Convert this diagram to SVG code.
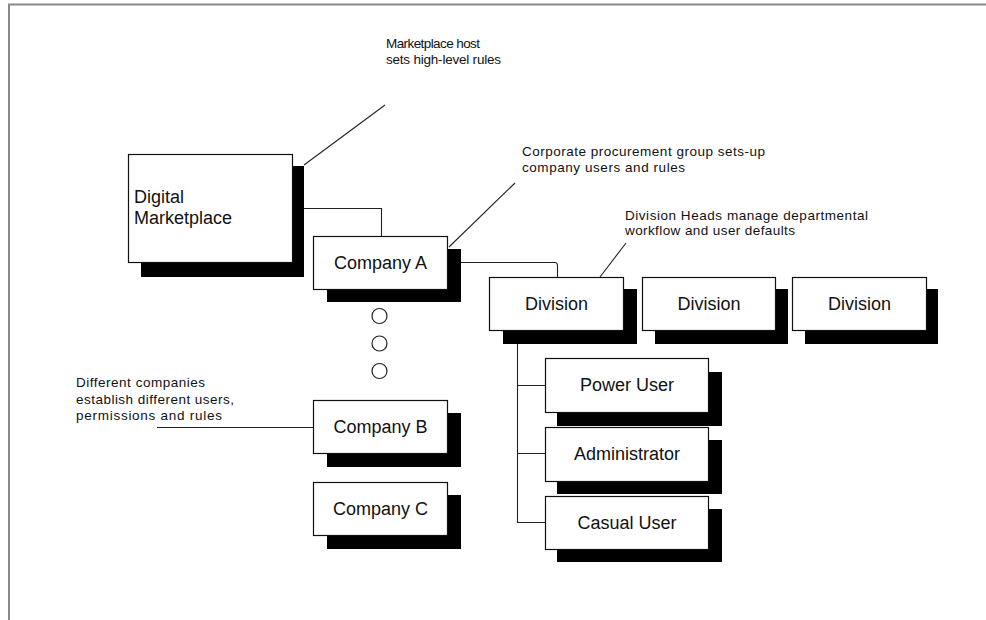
<svg xmlns="http://www.w3.org/2000/svg" width="986" height="620" viewBox="0 0 986 620">
<style>
.box{fill:#fff;stroke:#111;stroke-width:1.2}
.sh{fill:#000}
.lbl{font-family:"Liberation Sans",Arial,sans-serif;font-size:18px;fill:#111;text-anchor:middle}
.note{font-family:"Liberation Sans",Arial,sans-serif;font-size:13.5px;fill:#111}
.ln{fill:none;stroke:#222;stroke-width:1.1}
.dot{fill:#fff;stroke:#222;stroke-width:1.2}
</style>
<rect width="986" height="620" fill="#fff"/>
<g id="frame">
<path d="M9 620 V4.5 H986" fill="none" stroke="#8a8a8a" stroke-width="2"/>
</g>
<g id="connectors">
<path class="ln" d="M304 165 L385 105"/>
<path class="ln" d="M300 208.5 H381.5 V236"/>
<path class="ln" d="M449 247 L515 183"/>
<path class="ln" d="M455 262.5 H555 Q557.5 262.5 557.5 266 V277"/>
<path class="ln" d="M600 277 L626 243"/>
<path class="ln" d="M157 427.5 H313"/>
<path class="ln" d="M517.5 331 V522.5 H545 M517.5 385.5 H545 M517.5 453.5 H545"/>
</g>
<g id="notes">
<text class="note" x="386" y="48" textLength="94" lengthAdjust="spacing">Marketplace host</text>
<text class="note" x="386" y="64" textLength="115" lengthAdjust="spacing">sets high-level rules</text>
<text class="note" x="522" y="156" textLength="243" lengthAdjust="spacing">Corporate procurement group sets-up</text>
<text class="note" x="522" y="172" textLength="163" lengthAdjust="spacing">company users and rules</text>
<text class="note" x="625" y="220" textLength="243" lengthAdjust="spacing">Division Heads manage departmental</text>
<text class="note" x="625" y="235" textLength="170" lengthAdjust="spacing">workflow and user defaults</text>
<text class="note" x="76" y="387" textLength="129" lengthAdjust="spacing">Different companies</text>
<text class="note" x="76" y="404" textLength="158" lengthAdjust="spacing">establish different users,</text>
<text class="note" x="76" y="420" textLength="146" lengthAdjust="spacing">permissions and rules</text>
</g>
<g id="digital-marketplace">
<rect class="sh" x="141" y="166" width="163" height="111"/>
<rect class="box" x="128.5" y="154.5" width="164" height="108"/>
<text class="lbl" x="134" y="203" style="text-anchor:start">Digital</text>
<text class="lbl" x="134" y="224" style="text-anchor:start">Marketplace</text>
</g>
<g id="company-a">
<rect class="sh" x="327" y="249" width="134" height="53"/>
<rect class="box" x="313.5" y="236.5" width="134" height="53"/>
<text class="lbl" x="380.5" y="269">Company A</text>
</g>
<g id="ellipsis">
<circle class="dot" cx="379.5" cy="316" r="7.5"/>
<circle class="dot" cx="379.5" cy="343.5" r="7.5"/>
<circle class="dot" cx="379.5" cy="371" r="7.5"/>
</g>
<g id="company-b">
<rect class="sh" x="327" y="413" width="134" height="54"/>
<rect class="box" x="313.5" y="400.5" width="134" height="53"/>
<text class="lbl" x="380.5" y="433">Company B</text>
</g>
<g id="company-c">
<rect class="sh" x="327" y="495" width="134" height="54"/>
<rect class="box" x="313.5" y="482.5" width="134" height="53"/>
<text class="lbl" x="380.5" y="515">Company C</text>
</g>
<g id="division-1">
<rect class="sh" x="503" y="289" width="134" height="55"/>
<rect class="box" x="489.5" y="277.5" width="134" height="53"/>
<text class="lbl" x="556.5" y="310">Division</text>
</g>
<g id="division-2">
<rect class="sh" x="655" y="289" width="133" height="55"/>
<rect class="box" x="642.5" y="277.5" width="133" height="53"/>
<text class="lbl" x="709" y="310">Division</text>
</g>
<g id="division-3">
<rect class="sh" x="805" y="289" width="133" height="55"/>
<rect class="box" x="792.5" y="277.5" width="134" height="53"/>
<text class="lbl" x="859.5" y="310">Division</text>
</g>
<g id="power-user">
<rect class="sh" x="557" y="372" width="165" height="54"/>
<rect class="box" x="545.5" y="358.5" width="163" height="54"/>
<text class="lbl" x="627" y="391">Power User</text>
</g>
<g id="administrator">
<rect class="sh" x="557" y="440" width="165" height="54"/>
<rect class="box" x="545.5" y="427.5" width="163" height="54"/>
<text class="lbl" x="627" y="460">Administrator</text>
</g>
<g id="casual-user">
<rect class="sh" x="557" y="509" width="165" height="53"/>
<rect class="box" x="545.5" y="496.5" width="163" height="53"/>
<text class="lbl" x="627" y="529">Casual User</text>
</g>
</svg>
